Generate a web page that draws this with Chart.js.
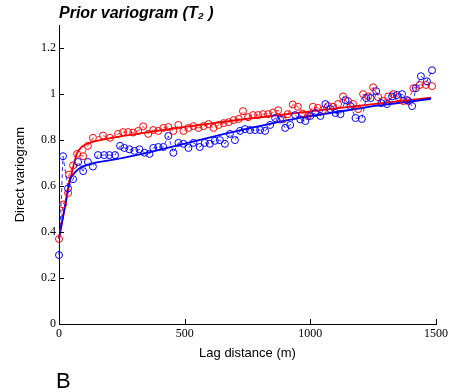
<!DOCTYPE html>
<html><head><meta charset="utf-8">
<script src="https://cdn.jsdelivr.net/npm/chart.js@4"></script>
<style>html,body{margin:0;padding:0;background:#fff}</style>
</head><body>
<canvas id="c" width="457" height="392"></canvas>
<script>
// Empirical variogram (red)
const redLags = [0,16,36,40,56,72,96,115,135,175,203,235,255,275,295,315,335,355,375,395,415,435,455,475,495,515,535,555,575,595,615,635,655,675,695,715,732,752,772,792,812,832,852,872,890,910,930,950,970,990,1010,1030,1050,1070,1090,1110,1130,1150,1170,1190,1210,1230,1250,1270,1290,1310,1330,1350,1370,1390,1410,1435,1460,1484];
const redValues = [0.37,0.52,0.57,0.65,0.69,0.74,0.73,0.775,0.81,0.82,0.81,0.827,0.835,0.835,0.833,0.84,0.86,0.827,0.844,0.84,0.853,0.857,0.84,0.866,0.84,0.853,0.861,0.853,0.861,0.87,0.853,0.866,0.874,0.878,0.887,0.892,0.926,0.9,0.909,0.909,0.913,0.913,0.92,0.93,0.89,0.913,0.955,0.945,0.915,0.905,0.945,0.94,0.93,0.948,0.945,0.957,0.99,0.97,0.957,0.935,1.0,0.99,1.03,0.987,0.97,0.99,1.0,0.987,0.97,0.97,1.026,1.04,1.04,1.035];
// Empirical variogram (blue)
const blueLags = [0,16,36,56,76,96,115,135,155,180,200,223,243,260,280,300,320,340,360,375,395,415,435,455,475,495,515,535,560,580,600,620,640,660,680,700,720,740,760,780,800,820,840,860,880,900,920,940,960,980,1000,1020,1040,1060,1080,1100,1120,1140,1160,1180,1205,1222,1240,1262,1282,1305,1325,1345,1365,1385,1405,1420,1440,1464,1484];
const blueValues = [0.30,0.73,0.59,0.63,0.705,0.665,0.705,0.685,0.735,0.735,0.735,0.735,0.775,0.766,0.76,0.753,0.76,0.745,0.74,0.766,0.77,0.77,0.818,0.745,0.788,0.784,0.766,0.788,0.77,0.788,0.784,0.797,0.8,0.784,0.827,0.8,0.84,0.848,0.844,0.844,0.844,0.84,0.866,0.896,0.89,0.853,0.866,0.909,0.89,0.883,0.905,0.918,0.905,0.957,0.935,0.918,0.913,0.974,0.948,0.896,0.892,0.983,0.983,1.013,0.961,0.957,0.99,0.996,1.0,0.974,0.948,1.026,1.078,1.056,1.104];
// Fitted models
const redModelLags = [0,20,40,60,70,80,90,100,125,150,200,250,350,500,750,1000,1250,1480];
const redModelValues = [0.37,0.49,0.61,0.70,0.74,0.758,0.770,0.778,0.790,0.797,0.808,0.817,0.834,0.858,0.893,0.925,0.957,0.985];
const blueModelLags = [0,20,44,55,64,78,92,120,150,200,250,350,500,650,750,900,1000,1150,1250,1400,1480];
const blueModelValues = [0.375,0.49,0.63,0.65,0.66,0.675,0.685,0.695,0.703,0.712,0.722,0.745,0.785,0.825,0.85,0.885,0.905,0.93,0.948,0.968,0.98];
const xTicks = [0,500,1000,1500];
const yTicks = [0,0.2,0.4,0.6,0.8,1,1.2];

const RED = 'rgb(255,0,0)', BLUE = 'rgb(0,0,255)';
const pts = (xs, ys) => xs.map((x, i) => ({x, y: ys[i]}));

const tickPlugin = {
  id: 'inTicks',
  afterDraw(chart) {
    const {ctx, chartArea: a, scales: {x, y}} = chart;
    ctx.save();
    ctx.strokeStyle = '#000'; ctx.lineWidth = 1;
    ctx.beginPath();
    yTicks.forEach(v => { const py = Math.round(y.getPixelForValue(v)) + 0.5; ctx.moveTo(a.left, py); ctx.lineTo(a.left + 5, py); });
    xTicks.forEach(v => { const px = Math.round(x.getPixelForValue(v)) + 0.5; ctx.moveTo(px, a.bottom); ctx.lineTo(px, a.bottom - 5); });
    ctx.stroke();
    ctx.fillStyle = '#000';
    ctx.font = '22px "Liberation Sans", Arial, sans-serif';
    ctx.textBaseline = 'alphabetic';
    ctx.fillText('B', 56, 388);
    ctx.restore();
  }
};

new Chart(document.getElementById('c'), {
  type: 'scatter',
  data: {
    datasets: [
      {data: pts(blueLags, blueValues), showLine: true, borderColor: BLUE, borderWidth: 0.8, borderDash: [4, 3],
       pointStyle: 'circle', pointRadius: 3.5, pointBorderWidth: 1, pointBorderColor: BLUE, pointBackgroundColor: 'rgba(0,0,0,0)', clip: false},
      {data: pts(redLags, redValues), showLine: true, borderColor: RED, borderWidth: 0.8, borderDash: [4, 3],
       pointStyle: 'circle', pointRadius: 3.5, pointBorderWidth: 1, pointBorderColor: RED, pointBackgroundColor: 'rgba(0,0,0,0)', clip: false},
      {data: pts(blueModelLags, blueModelValues), showLine: true, borderColor: BLUE, borderWidth: 1.8, pointRadius: 0, clip: false},
      {data: pts(redModelLags, redModelValues), showLine: true, borderColor: RED, borderWidth: 1.8, pointRadius: 0, clip: false}
    ]
  },
  options: {
    responsive: false,
    animation: false,
    events: [],
    layout: {padding: {left: 9, right: 0, top: 0, bottom: 27}},
    plugins: {
      legend: {display: false},
      tooltip: {enabled: false},
      title: {display: true, text: 'Prior variogram (T\u2082 )', align: 'start', fullSize: false,
        color: '#000', font: {family: '"Liberation Sans", Arial, sans-serif', size: 16, weight: 'bold', style: 'italic'},
        padding: {top: 4, bottom: 2}}
    },
    scales: {
      x: {
        type: 'linear', min: 0, max: 1500,
        afterBuildTicks: s => { s.ticks = xTicks.map(v => ({value: v})); },
        afterFit: s => { s.height = 41; s.paddingRight = 21; s.paddingLeft = 0; },
        grid: {display: false, drawTicks: false},
        border: {display: true, color: '#000', width: 1},
        ticks: {color: '#000', padding: 3, maxRotation: 0, autoSkip: false,
          callback: v => String(v),
          font: {family: '"Liberation Serif", "Times New Roman", serif', size: 12}},
        title: {display: true, text: 'Lag distance (m)', color: '#000',
          font: {family: '"Liberation Sans", Arial, sans-serif', size: 13}, padding: {top: 4, bottom: 4}}
      },
      y: {
        type: 'linear', min: 0, max: 1.3,
        afterBuildTicks: s => { s.ticks = yTicks.map(v => ({value: v})); },
        afterFit: s => { s.width = 50; s.paddingTop = 0; s.paddingBottom = 0; },
        grid: {display: false, drawTicks: false},
        border: {display: true, color: '#000', width: 1},
        ticks: {color: '#000', padding: 3, autoSkip: false,
          callback: v => String(Math.round(v * 10) / 10),
          font: {family: '"Liberation Serif", "Times New Roman", serif', size: 12}},
        title: {display: true, text: 'Direct variogram', color: '#000',
          font: {family: '"Liberation Sans", Arial, sans-serif', size: 13}, padding: {top: 4, bottom: 4}}
      }
    }
  },
  plugins: [tickPlugin]
});
</script>
</body></html>
